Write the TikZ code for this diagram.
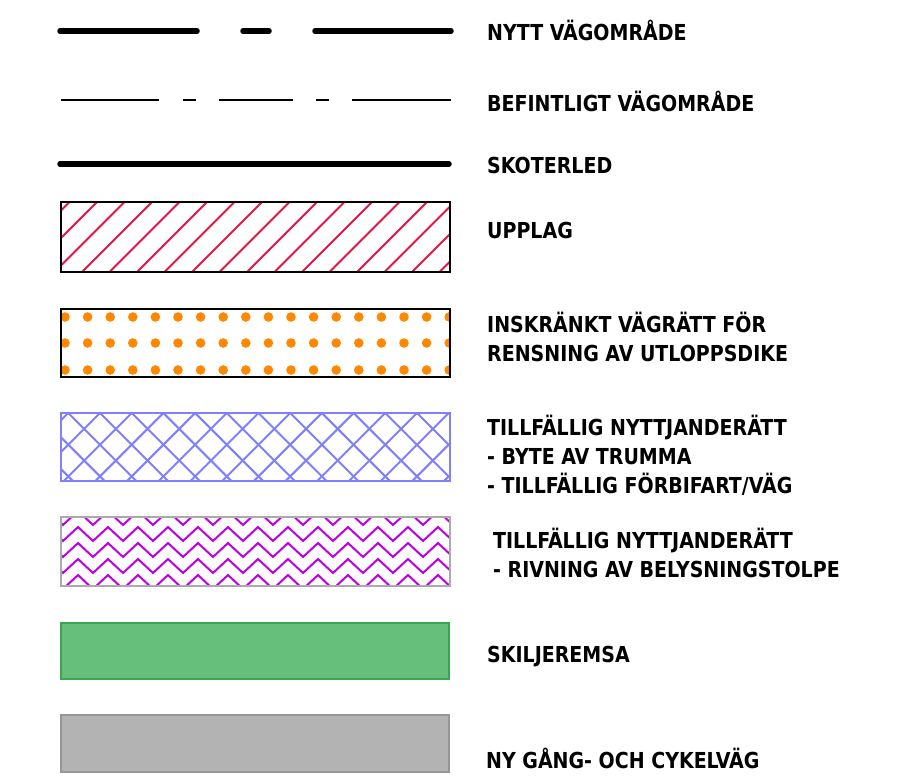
\documentclass[tikz,border=0pt]{standalone}
\usepackage{fontspec}
\newfontfamily\labfont[FakeStretch=0.96]{DejaVu Sans Condensed Bold}
\definecolor{hatchred}{RGB}{228,22,72}
\definecolor{dotorange}{RGB}{255,136,0}
\definecolor{crossblue}{RGB}{128,128,255}
\definecolor{zigpurple}{RGB}{190,0,228}
\definecolor{zigborder}{RGB}{170,170,170}
\definecolor{greenfill}{RGB}{102,191,122}
\definecolor{greenline}{RGB}{58,166,80}
\definecolor{grayfill}{RGB}{179,179,179}
\definecolor{grayline}{RGB}{150,150,150}
\begin{document}
\begin{tikzpicture}[x=1pt,y=-1pt,
  lab/.style={anchor=base west, inner sep=0pt, font=\labfont\fontsize{22}{26}\selectfont},
  thickline/.style={line width=5.5pt, line cap=round},
  thinline/.style={line width=2pt},
  frame/.style={line width=2pt}]
\useasboundingbox[fill=white] (0,0) rectangle (905,782);

% NYTT VAGOMRADE
\draw[thickline] (60,31) -- (197,31);
\draw[thickline] (243,31) -- (269,31);
\draw[thickline] (315,31) -- (451,31);
% BEFINTLIGT
\draw[thinline] (61,100) -- (159,100);
\draw[thinline] (183,100) -- (196,100);
\draw[thinline] (219,100) -- (293,100);
\draw[thinline] (316,100) -- (329,100);
\draw[thinline] (352,100) -- (451,100);
% SKOTERLED
\draw[thickline] (60,164) -- (449,164);

% UPPLAG
\begin{scope}
  \clip (61,202) rectangle (450,272);
  \foreach \k in {-3,...,14} \draw[hatchred, line width=1.8pt] ({82+27.5*\k},272) -- ++(75,-75);
\end{scope}
\draw[frame] (61,202) rectangle (450,272);

% INSKRANKT
\begin{scope}
  \clip (61,309) rectangle (450,377);
  \foreach \i in {0,...,17} \foreach \yy in {317,343,370}
    \fill[dotorange] ({65+22.6*\i},\yy) circle[radius=4.8pt];
\end{scope}
\draw[frame] (61,309) rectangle (450,377);

% crosshatch
\begin{scope}
  \clip (61,413) rectangle (450,481);
  \foreach \k in {-3,...,15} {
    \draw[crossblue, line width=2pt] ({68.3+31.7*\k},413) -- ++(80,80);
    \draw[crossblue, line width=2pt] ({68.3+31.7*\k},413) -- ++(-80,80);
  }
\end{scope}
\draw[crossblue, frame] (61,413) rectangle (450,481);

% zigzag
\begin{scope}
  \clip (61,517) rectangle (450,586);
  \foreach \n in {0,...,4} {
    \pgfmathsetmacro{\vy}{525+16*\n}
    \pgfmathsetmacro{\py}{\vy-14}
    \draw[zigpurple, line width=2pt, line join=miter] (48,\py)
      \foreach \k in {0,...,13} { -- ({63+30*\k},\vy) -- ({78+30*\k},\py) };
  }
\end{scope}
\draw[zigborder, line width=1.5pt] (61,517) rectangle (450,586);

% green
\draw[fill=greenfill, draw=greenline, line width=1.5pt] (61,623) rectangle (449,679);
% gray
\draw[fill=grayfill, draw=grayline, line width=1.5pt] (61,715) rectangle (449,772);

% labels
\node[lab] (t1) at (487,40) {NYTT VÄGOMRÅDE};
\node[lab] (t2) at (487,111) {BEFINTLIGT VÄGOMRÅDE};
\node[lab] (t3) at (487,173) {SKOTERLED};
\node[lab] (t4) at (487,238) {UPPLAG};
\node[lab] (t5a) at (487,332) {INSKRÄNKT VÄGRÄTT FÖR};
\node[lab] (t5b) at (487,361) {RENSNING AV UTLOPPSDIKE};
\node[lab] (t6a) at (487,435) {TILLFÄLLIG NYTTJANDERÄTT};
\node[lab] (t6b) at (487,464) {- BYTE AV TRUMMA};
\node[lab] (t6c) at (487,493) {- TILLFÄLLIG FÖRBIFART/VÄG};
\node[lab] (t7a) at (493,548) {TILLFÄLLIG NYTTJANDERÄTT};
\node[lab] (t7b) at (493,577) {- RIVNING AV BELYSNINGSTOLPE};
\node[lab] (t8) at (487,662) {SKILJEREMSA};
\node[lab] (t9) at (486,768) {NY GÅNG- OCH CYKELVÄG};
\end{tikzpicture}
\end{document}
